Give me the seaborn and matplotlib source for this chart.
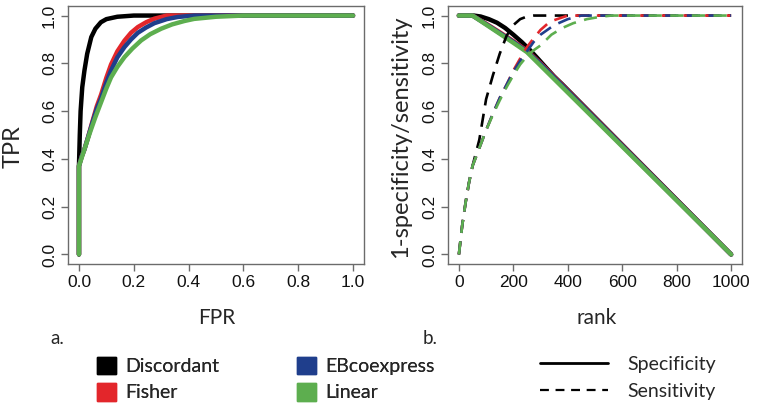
import matplotlib
matplotlib.use("Agg")
import matplotlib.pyplot as plt
from matplotlib.patches import Patch
from matplotlib.lines import Line2D
import seaborn as sns

# colours of the four methods
methods = ["Discordant", "Fisher", "EBcoexpress", "Linear"]
colors = ["#000000", "#E3262B", "#1F3E8C", "#5DAE4F"]

# ---- panel a: ROC curves (FPR, TPR)
fpr_disc = [0, 0, 0.003, 0.006, 0.012, 0.02, 0.03, 0.045, 0.06, 0.08, 0.1, 0.14, 0.2, 1.0]
tpr_disc = [0, 0.37, 0.5, 0.6, 0.7, 0.77, 0.84, 0.91, 0.945, 0.972, 0.985, 0.995, 1.0, 1.0]

fpr_fish = [0, 0, 0.01, 0.02, 0.033, 0.05, 0.065, 0.081, 0.1, 0.117, 0.14, 0.166, 0.19, 0.215, 0.245, 0.275, 0.32, 1.0]
tpr_fish = [0, 0.37, 0.41, 0.44, 0.49, 0.56, 0.62, 0.67, 0.74, 0.795, 0.85, 0.895, 0.928, 0.952, 0.972, 0.987, 1.0, 1.0]

fpr_ebco = [0, 0, 0.01, 0.02, 0.033, 0.05, 0.065, 0.081, 0.1, 0.117, 0.14, 0.166, 0.19, 0.215, 0.245, 0.275, 0.32, 0.36, 0.42, 1.0]
tpr_ebco = [0, 0.37, 0.41, 0.44, 0.49, 0.555, 0.61, 0.655, 0.72, 0.77, 0.825, 0.868, 0.9, 0.928, 0.95, 0.968, 0.985, 0.994, 1.0, 1.0]

fpr_lin = [0, 0, 0.02, 0.04, 0.06, 0.08, 0.1, 0.117, 0.14, 0.166, 0.195, 0.227, 0.26, 0.3, 0.34, 0.384, 0.42, 0.5, 0.6, 1.0]
tpr_lin = [0, 0.37, 0.44, 0.51, 0.575, 0.635, 0.695, 0.741, 0.785, 0.826, 0.862, 0.896, 0.922, 0.945, 0.963, 0.977, 0.986, 0.995, 1.0, 1.0]

# ---- panel b: 1-specificity (solid) and sensitivity (dashed) vs rank
rank_spec_disc = [0, 55, 80, 110, 140, 170, 200, 230, 260, 290, 320, 350, 380, 1000]
spec_disc = [1, 1, 0.996, 0.985, 0.97, 0.948, 0.92, 0.89, 0.857, 0.82, 0.782, 0.745, 0.712, 0]

rank_spec_fish = [0, 50, 100, 150, 200, 250, 300, 1000]
spec_fish = [1, 1, 0.966, 0.93, 0.893, 0.853, 0.80, 0]

rank_spec_ebco = [0, 50, 100, 150, 200, 250, 300, 1000]
spec_ebco = [1, 1, 0.964, 0.927, 0.89, 0.85, 0.797, 0]

rank_spec_lin = [0, 50, 100, 150, 200, 250, 1000]
spec_lin = [1, 1, 0.962, 0.924, 0.886, 0.847, 0]

rank_sens_disc = [0, 12, 25, 37, 50, 75, 100, 125, 150, 175, 200, 225, 250, 275, 1000]
sens_disc = [0, 0.12, 0.22, 0.30, 0.37, 0.48, 0.65, 0.75, 0.84, 0.915, 0.96, 0.985, 0.996, 1.0, 1.0]

rank_sens_fish = [0, 12, 25, 37, 50, 80, 100, 125, 150, 175, 200, 225, 250, 275, 300, 335, 400, 1000]
sens_fish = [0, 0.12, 0.22, 0.30, 0.37, 0.46, 0.52, 0.59, 0.655, 0.71, 0.77, 0.82, 0.868, 0.905, 0.94, 0.975, 1.0, 1.0]

rank_sens_ebco = [0, 12, 25, 37, 50, 80, 100, 125, 150, 175, 200, 225, 250, 275, 300, 350, 400, 450, 1000]
sens_ebco = [0, 0.12, 0.22, 0.30, 0.37, 0.46, 0.52, 0.59, 0.655, 0.71, 0.765, 0.81, 0.85, 0.89, 0.92, 0.96, 0.985, 1.0, 1.0]

rank_sens_lin = [0, 12, 25, 37, 50, 80, 100, 125, 150, 175, 200, 225, 250, 275, 300, 340, 380, 420, 470, 520, 560, 1000]
sens_lin = [0, 0.12, 0.22, 0.30, 0.37, 0.46, 0.52, 0.585, 0.645, 0.70, 0.75, 0.795, 0.83, 0.855, 0.875, 0.92, 0.948, 0.968, 0.985, 0.995, 1.0, 1.0]

ticks_a = [0.0, 0.2, 0.4, 0.6, 0.8, 1.0]
ticks_rank = [0, 200, 400, 600, 800, 1000]

sns.set_style("ticks")
plt.rcParams["font.family"] = ["Liberation Sans", "DejaVu Sans"]
label_font = ["Lato", "DejaVu Sans"]
frame = "#6b6b6b"

fig = plt.figure(figsize=(7.59, 4.08), dpi=100)
W, H = 759.0, 408.0
ax1 = fig.add_axes([68 / W, 1 - 264 / H, 296 / W, 258 / H])
ax2 = fig.add_axes([448 / W, 1 - 264 / H, 294 / W, 258 / H])

roc = [(fpr_disc, tpr_disc), (fpr_fish, tpr_fish), (fpr_ebco, tpr_ebco), (fpr_lin, tpr_lin)]
for (x, y), c in zip(roc, colors):
    sns.lineplot(x=x, y=y, color=c, lw=3.2, sort=False, estimator=None, ax=ax1)

spec = [(rank_spec_disc, spec_disc), (rank_spec_fish, spec_fish),
        (rank_spec_ebco, spec_ebco), (rank_spec_lin, spec_lin)]
sens = [(rank_sens_disc, sens_disc), (rank_sens_fish, sens_fish),
        (rank_sens_ebco, sens_ebco), (rank_sens_lin, sens_lin)]
for (x, y), c in zip(spec, colors):
    sns.lineplot(x=x, y=y, color=c, lw=3.2, sort=False, estimator=None, ax=ax2)
for (x, y), c in zip(sens, colors):
    sns.lineplot(x=x, y=y, color=c, lw=1.9, linestyle=(0, (5, 3.2)),
                 sort=False, estimator=None, ax=ax2)

for ax, xt, xl in [(ax1, ticks_a, (-0.04, 1.04)), (ax2, ticks_rank, (-40, 1040))]:
    ax.set_xlim(*xl)
    ax.set_ylim(-0.04, 1.04)
    ax.set_xticks(xt)
    ax.set_xticklabels([("%g" % t) if ax is ax2 else "%.1f" % t for t in xt])
    ax.set_yticks(ticks_a)
    ax.set_yticklabels(["%.1f" % t for t in ticks_a], rotation=90, va="center")
    for s in ax.spines.values():
        s.set_visible(True)
        s.set_color(frame)
        s.set_linewidth(1.0)
    ax.tick_params(colors="#111111", labelsize=12.5, length=5, width=1.0,
                   color=frame, pad=3)
    ax.set_xlabel("")
    ax.set_ylabel("")

fig.text(13 / W, 1 - 147 / H, "TPR", rotation=90, ha="center", va="center",
         fontsize=17, family=label_font)
fig.text(401 / W, 1 - 137 / H, "1-specificity/sensitivity", rotation=90,
         ha="center", va="center", fontsize=17, family=label_font)
fig.text(217 / W, 1 - 318 / H, "FPR", ha="center", va="center",
         fontsize=15, family=label_font)
fig.text(597 / W, 1 - 318 / H, "rank", ha="center", va="center",
         fontsize=15, family=label_font)
fig.text(50 / W, 1 - 339 / H, "a.", ha="left", va="center",
         fontsize=13.5, family=label_font)
fig.text(423 / W, 1 - 339 / H, "b.", ha="left", va="center",
         fontsize=13.5, family=label_font)

handles = [Patch(facecolor=c, edgecolor=c) for c in colors]
leg1 = fig.legend(handles, methods,
                  ncol=2, loc="upper left", bbox_to_anchor=(97 / W, 1 - 357 / H),
                  frameon=False, borderaxespad=0, borderpad=0,
                  handlelength=1.0, handleheight=1.0, handletextpad=0.45,
                  columnspacing=4.0, labelspacing=0.4,
                  prop={"family": label_font, "size": 14})
fig.add_artist(leg1)
lines = [Line2D([], [], color="black", lw=2.0),
         Line2D([], [], color="black", lw=1.6, linestyle=(0, (4, 3)))]
fig.legend(lines, ["Specificity", "Sensitivity"], loc="upper left",
           bbox_to_anchor=(540 / W, 1 - 356 / H), frameon=False,
           borderaxespad=0, borderpad=0, handlelength=3.5, handletextpad=1.0,
           labelspacing=0.5, prop={"family": label_font, "size": 14})

fig.savefig("out.png", dpi=100)
